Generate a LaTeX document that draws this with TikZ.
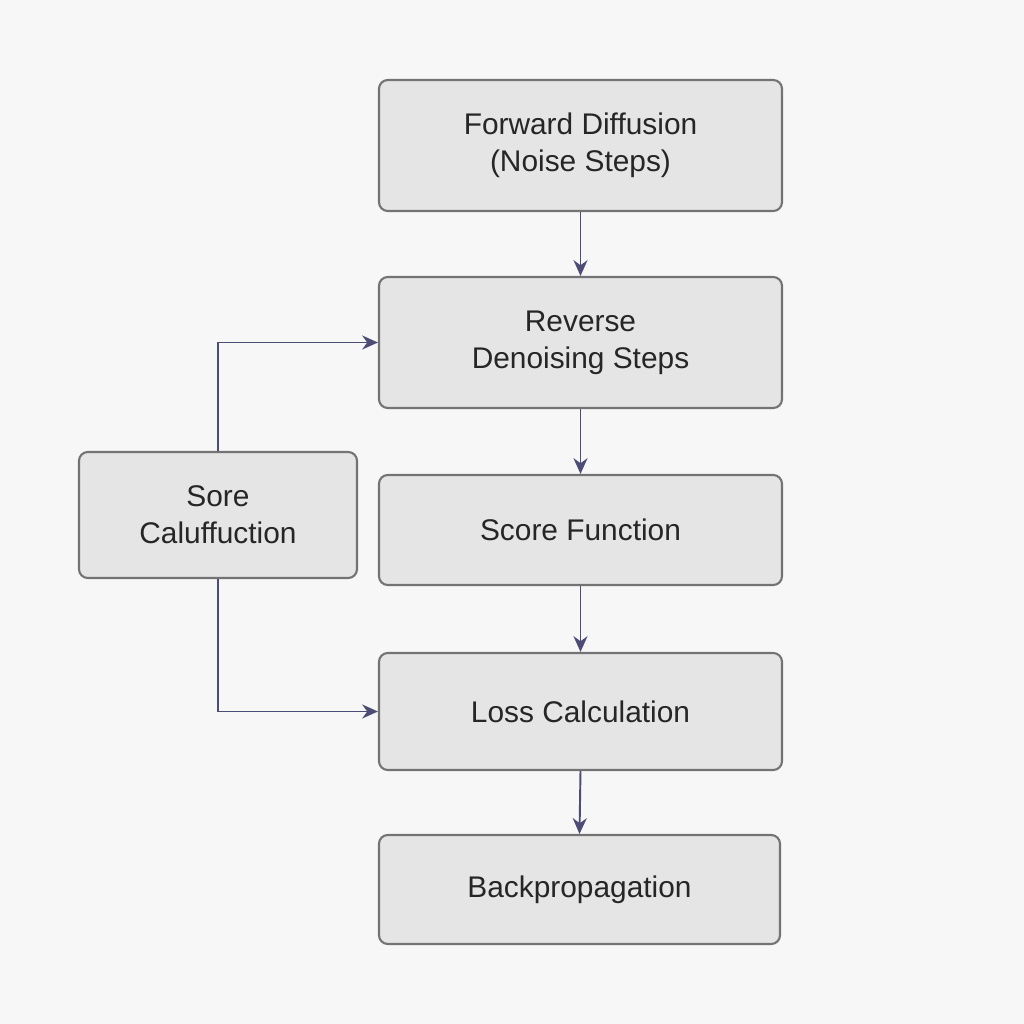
\documentclass[tikz,border=0pt]{standalone}
\usepackage{fontspec}
\setmainfont{Liberation Sans}
\usetikzlibrary{arrows.meta}
\begin{document}
\begin{tikzpicture}[x=0.02cm,y=-0.02cm,
  box/.style={draw=black!55,line width=1.2pt,fill=black!10,rounded corners=5pt,align=center,font=\fontsize{17}{21}\selectfont,text=black!85,inner sep=0pt},
  arr/.style={draw=black!60!blue!40!gray,line width=1.1pt,-{Stealth[length=9pt,width=8pt]}}]
\fill[white!97!black] (0,0) rectangle (1024,1024);
\useasboundingbox (0,0) rectangle (1024,1024);
\node[box,minimum width=403*0.02cm,minimum height=131*0.02cm] (fwd) at (580.5,145.5) {Forward Diffusion\\(Noise Steps)};
\node[box,minimum width=403*0.02cm,minimum height=131*0.02cm] (rev) at (580.5,342.5) {Reverse\\Denoising Steps};
\node[box,minimum width=403*0.02cm,minimum height=110*0.02cm] (score) at (580.5,530) {Score Function};
\node[box,minimum width=403*0.02cm,minimum height=117*0.02cm] (loss) at (580.5,711.5) {Loss Calculation};
\node[box,minimum width=401*0.02cm,minimum height=109*0.02cm] (back) at (579.5,889.5) {Backpropagation};
\node[box,minimum width=278*0.02cm,minimum height=126*0.02cm] (sore) at (218,515) {Sore\\Caluffuction};
\draw[arr] (fwd.south) -- (rev.north);
\draw[arr] (rev.south) -- (score.north);
\draw[arr] (score.south) -- (loss.north);
\draw[arr] (loss.south) -- (back.north);
\draw[arr] (sore.north) |- (rev.west);
\draw[arr] (sore.south) |- (loss.west);
\end{tikzpicture}
\end{document}
